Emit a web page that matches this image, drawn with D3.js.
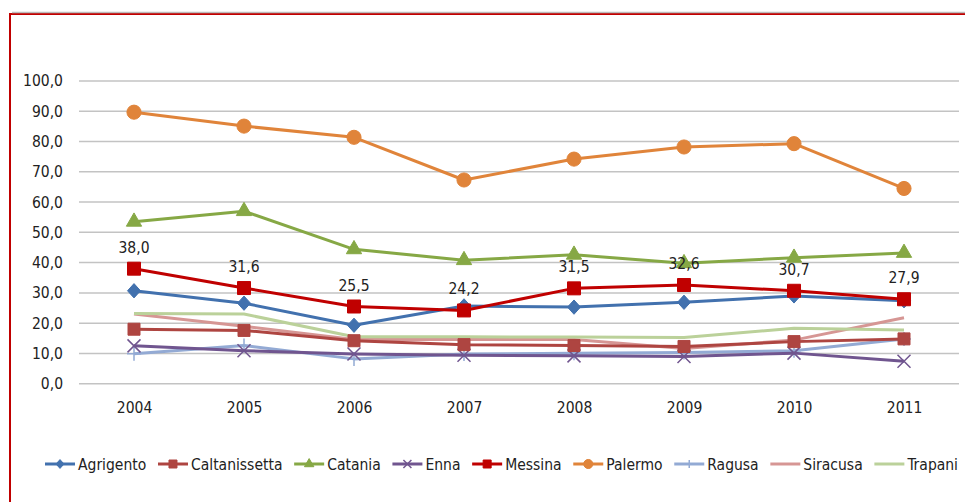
<!DOCTYPE html>
<html><head><meta charset="utf-8">
<script src="https://cdn.jsdelivr.net/npm/d3@7"></script>
<style>body{margin:0;background:#fff}svg{display:block}</style>
</head><body><svg id="c" width="965" height="502"></svg>
<script>
const years = ["2004","2005","2006","2007","2008","2009","2010","2011"];
const yTicks = [0,10,20,30,40,50,60,70,80,90,100];
const agrigento     = [30.7, 26.6, 19.3, 25.7, 25.3, 26.9, 29.0, 27.4];
const caltanissetta = [18.0, 17.6, 14.2, 12.9, 12.6, 12.3, 13.9, 14.8];
const catania       = [53.5, 57.0, 44.4, 40.8, 42.6, 39.8, 41.6, 43.2];
const enna          = [12.5, 10.9, 9.8, 9.4, 9.2, 9.0, 10.1, 7.4];
const messina       = [38.0, 31.6, 25.5, 24.2, 31.5, 32.6, 30.7, 27.9];
const palermo       = [89.7, 85.1, 81.4, 67.3, 74.2, 78.2, 79.3, 64.5];
const ragusa        = [9.9, 12.6, 8.2, 9.8, 10.1, 10.3, 10.9, 14.8];
const siracusa      = [23.0, 19.0, 14.6, 14.6, 14.6, 11.6, 14.4, 21.8];
const trapani       = [23.2, 23.0, 15.5, 15.5, 15.4, 15.3, 18.3, 17.7];
const messinaLabels = ["38,0","31,6","25,5","24,2","31,5","32,6","30,7","27,9"];

const series = [
  {name:"Agrigento", values:agrigento, color:"#4271AE", marker:"diamond"},
  {name:"Caltanissetta", values:caltanissetta, color:"#AE4541", marker:"square"},
  {name:"Catania", values:catania, color:"#86A845", marker:"triangle"},
  {name:"Enna", values:enna, color:"#70558F", marker:"x"},
  {name:"Messina", values:messina, color:"#C00000", marker:"square"},
  {name:"Palermo", values:palermo, color:"#E0843A", marker:"circle"},
  {name:"Ragusa", values:ragusa, color:"#93AAD4", marker:"plus"},
  {name:"Siracusa", values:siracusa, color:"#D69694", marker:"none"},
  {name:"Trapani", values:trapani, color:"#BBD19A", marker:"none"}
];
const drawOrder = ["Siracusa","Trapani","Ragusa","Enna","Caltanissetta","Agrigento","Catania","Messina","Palermo"];

const svg = d3.select("#c");
const font = "'Liberation Sans Narrow','DejaVu Sans Condensed','Liberation Sans',sans-serif";

// frame
svg.append("rect").attr("x",10).attr("y",14).attr("width",1000).attr("height",600)
  .attr("fill","none").attr("stroke","#C00000").attr("stroke-width",2);
svg.append("line").attr("x1",12).attr("x2",965).attr("y1",12.5).attr("y2",12.5)
  .attr("stroke","#bbbbbb").attr("stroke-width",1.5);

const x = d3.scalePoint().domain(years).range([79,959]).padding(0.5);
const y = d3.scaleLinear().domain([0,100]).range([383.7,81]);

svg.append("g").selectAll("line").data(yTicks).join("line")
  .attr("x1",79).attr("x2",959).attr("y1",d=>y(d)).attr("y2",d=>y(d))
  .attr("stroke","#c3c3c3").attr("stroke-width",1.5);

const yAxis = d3.axisLeft(y).tickValues(yTicks).tickSize(0).tickPadding(0)
  .tickFormat(d=>d3.format(".1f")(d).replace(".",","));
const gy = svg.append("g").attr("transform","translate(63,0)").call(yAxis);
gy.select(".domain").remove();
gy.selectAll("text").attr("font-family",font).attr("font-size",15.5).attr("fill","#222");

const xAxis = d3.axisBottom(x).tickSize(0).tickPadding(0);
const gx = svg.append("g").attr("transform","translate(0,402)").call(xAxis);
gx.select(".domain").remove();
gx.selectAll("text").attr("font-family",font).attr("font-size",15.5).attr("fill","#222");

function markerPath(type, s){
  switch(type){
    case "diamond": { const w=s*0.5, h=s*0.55; return `M0,${-h}L${w},0L0,${h}L${-w},0Z`; }
    case "square": return `M${-s/2},${-s/2}h${s}v${s}h${-s}Z`;
    case "triangle": return d3.symbol(d3.symbolTriangle, s*s*0.6)();
    case "circle": return d3.symbol(d3.symbolCircle, s*s*0.8)();
    case "x": return `M${-s/2},${-s/2}L${s/2},${s/2}M${-s/2},${s/2}L${s/2},${-s/2}`;
    case "plus": return `M${-s/2},0H${s/2}M0,${-s/2}V${s/2}`;
  }
  return "";
}
function drawMarker(g, type, color, s){
  const p = g.append("path").attr("d", markerPath(type, s));
  if(type==="x"||type==="plus") p.attr("fill","none").attr("stroke",color).attr("stroke-width",1.5);
  else p.attr("fill",color).attr("stroke",color).attr("stroke-width",1);
  return p;
}

const line = d3.line().x((d,i)=>x(years[i])).y(d=>y(d));
const plot = svg.append("g");
drawOrder.forEach(n=>{
  const s = series.find(d=>d.name===n);
  const g = plot.append("g");
  g.append("path").attr("d",line(s.values)).attr("fill","none")
    .attr("stroke",s.color).attr("stroke-width",3).attr("stroke-linejoin","round");
  if(s.marker!=="none"){
    s.values.forEach((v,i)=>{
      const m = g.append("g").attr("transform",`translate(${x(years[i])},${y(v)})`);
      const size = s.marker==="circle"?14:(s.marker==="square"?(s.name==="Messina"?13:12):(s.marker==="plus"?14:13));
      drawMarker(m, s.marker, s.color, size);
    });
  }
});

svg.append("g").selectAll("text").data(messina).join("text")
  .attr("x",(d,i)=>x(years[i])).attr("y",d=>y(d)-16)
  .attr("text-anchor","middle").attr("font-family",font).attr("font-size",15.5).attr("fill","#222")
  .text((d,i)=>messinaLabels[i]);

// legend, spread between x=45 and x=958
const leg = svg.append("g").attr("transform","translate(45,464)");
const items = series.map(s=>{
  const g = leg.append("g");
  g.append("line").attr("x1",0).attr("x2",30).attr("y1",0).attr("y2",0)
    .attr("stroke",s.color).attr("stroke-width",3);
  if(s.marker!=="none"){
    const m = g.append("g").attr("transform","translate(15,0)");
    drawMarker(m, s.marker, s.color, s.marker==="circle"?9:8);
  }
  const t = g.append("text").attr("x",33).attr("y",5.5).attr("font-family",font)
    .attr("font-size",15.5).attr("fill","#222").text(s.name);
  return {g, w:33 + t.node().getComputedTextLength()};
});
const sumW = d3.sum(items, d=>d.w);
const gap = (913 - sumW)/(items.length-1);
let cx = 0;
items.forEach(it=>{ it.g.attr("transform",`translate(${cx},0)`); cx += it.w + gap; });
</script></body></html>
